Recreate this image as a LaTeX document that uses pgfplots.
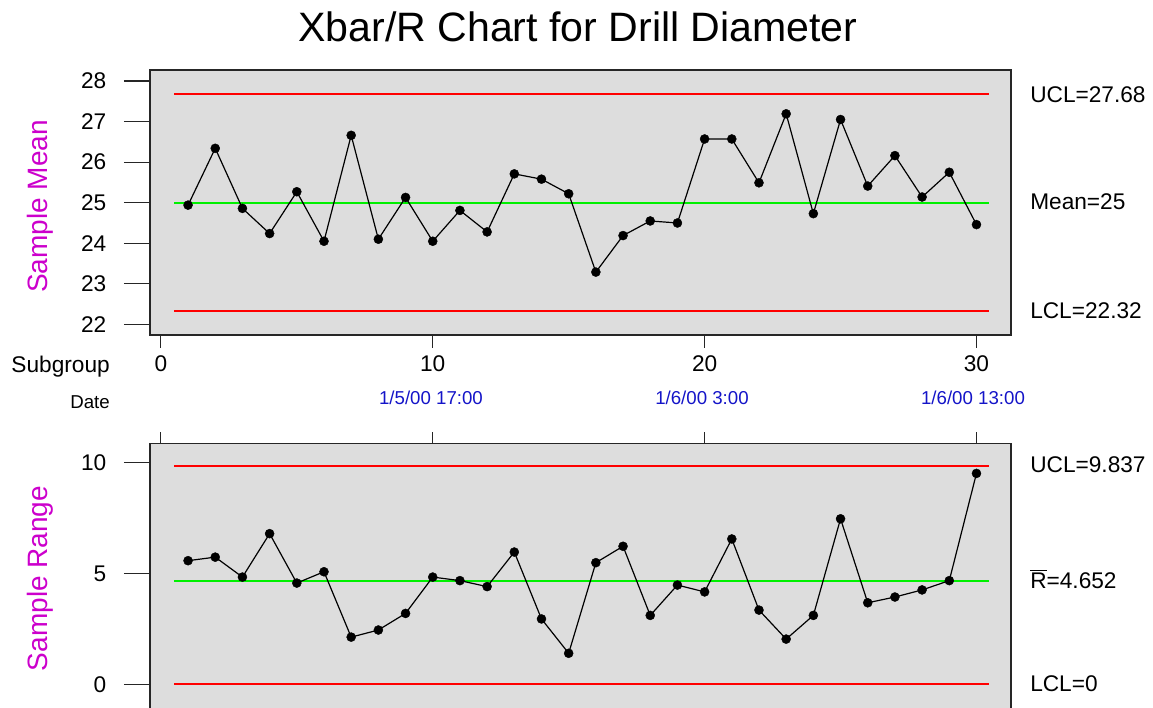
\documentclass[border=0pt]{standalone}
\usepackage{pgfplots}
\pgfplotsset{compat=1.18}
\usepackage{fontspec}
\setmainfont{Liberation Sans}
\definecolor{bg}{RGB}{221,221,221}
\definecolor{mag}{RGB}{204,0,204}
\definecolor{dblue}{RGB}{20,20,200}
\definecolor{cred}{RGB}{255,0,0}
\definecolor{cgreen}{RGB}{0,240,0}
\pgfplotstableread{
s xbar r
1 24.94 5.58
2 26.34 5.74
3 24.86 4.84
4 24.24 6.80
5 25.27 4.57
6 24.05 5.08
7 26.66 2.13
8 24.10 2.45
9 25.13 3.20
10 24.05 4.84
11 24.81 4.68
12 24.28 4.41
13 25.71 5.97
14 25.58 2.95
15 25.22 1.40
16 23.29 5.49
17 24.19 6.23
18 24.55 3.11
19 24.50 4.48
20 26.57 4.17
21 26.57 6.56
22 25.49 3.35
23 27.19 2.04
24 24.73 3.11
25 27.05 7.47
26 25.41 3.68
27 26.16 3.94
28 25.14 4.26
29 25.75 4.68
30 24.46 9.52
}\datatable
\begin{document}
\begin{tikzpicture}
\pgfplotsset{
  cc/.style={
    scale only axis, width=645.75pt,
    xmin=-0.40, xmax=31.27,
    axis background/.style={fill=bg},
    axis line style={line width=1pt, black!85},
    tick align=outside,
    tick style={black!85, line width=0.9pt},
    ticklabel style={font=\fontsize{17}{17}\selectfont},
    yticklabel style={xshift=-25pt},
    /pgf/number format/assume math mode=true,
    xtick={0,10,20,30},
    ytick pos=left,
    ytick style={/pgfplots/major tick length=19.5pt},
    clip=false,
  },
  dataline/.style={black, line width=0.9pt, mark=*, mark size=3.4pt, mark options={fill=black, line width=0.3pt}},
  cline/.style={line width=1.5pt},
}
\begin{axis}[cc,
  at={(112.5pt,279pt)}, anchor=south west,
  height=198.75pt,
  ymin=21.74, ymax=28.27,
  ytick={22,23,24,25,26,27,28},
  xtick pos=left,
  xticklabel style={yshift=-8pt},
  xtick style={/pgfplots/major tick length=9.75pt},
]
\addplot[cred, cline] coordinates {(0.5,27.68) (30.45,27.68)};
\addplot[cgreen, cline] coordinates {(0.5,25) (30.45,25)};
\addplot[cred, cline] coordinates {(0.5,22.32) (30.45,22.32)};
\addplot[dataline] table[x=s, y=xbar] {\datatable};
\end{axis}
\begin{axis}[cc,
  at={(112.5pt,197.8pt)}, anchor=north west,
  height=205.7pt,
  ymin=-1.5, ymax=10.88,
  ytick={0,5,10},
  xtick pos=right,
  xticklabels={},
  xtick style={/pgfplots/major tick length=8.25pt},
]
\addplot[cred, cline] coordinates {(0.5,9.837) (30.45,9.837)};
\addplot[cgreen, cline] coordinates {(0.5,4.652) (30.45,4.652)};
\addplot[cred, cline] coordinates {(0.5,0) (30.45,0)};
\addplot[dataline] table[x=s, y=r] {\datatable};
\end{axis}
\begin{scope}[x=0.75pt, y=-0.75pt, yshift=530.25pt]
  \node[font=\fontsize{30.8}{31}\selectfont] at (578,27) {Xbar/R Chart for Drill Diameter};
  \node[rotate=90, text=mag, font=\fontsize{21}{21}\selectfont] at (40,206.5) {Sample Mean};
  \node[rotate=90, text=mag, font=\fontsize{21}{21}\selectfont] at (40,578.5) {Sample Range};
  \node[anchor=east, inner sep=0pt, font=\fontsize{17}{17}\selectfont] at (110,367) {Subgroup};
  \node[anchor=east, inner sep=0pt, font=\fontsize{14}{14}\selectfont] at (110,402) {Date};
  \node[text=dblue, inner sep=0pt, font=\fontsize{14}{14}\selectfont] at (431,398) {1/5/00 17:00};
  \node[text=dblue, inner sep=0pt, font=\fontsize{14}{14}\selectfont] at (702,398) {1/6/00 3:00};
  \node[text=dblue, inner sep=0pt, font=\fontsize{14}{14}\selectfont] at (973,398) {1/6/00 13:00};
  \begin{scope}[every node/.style={anchor=west, inner sep=0pt, font=\fontsize{17}{17}\selectfont}]
    \node at (1030,95) {UCL=27.68};
    \node at (1030,202) {Mean=25};
    \node at (1030,311) {LCL=22.32};
    \node at (1030,465) {UCL=9.837};
    \node at (1030,579) {\(\overline{\mbox{R}}\)=4.652};
    \node at (1030,684) {LCL=0};
  \end{scope}
\end{scope}
\pgfresetboundingbox
\useasboundingbox (0,0) rectangle (864.75pt,530.25pt);
\end{tikzpicture}
\end{document}
